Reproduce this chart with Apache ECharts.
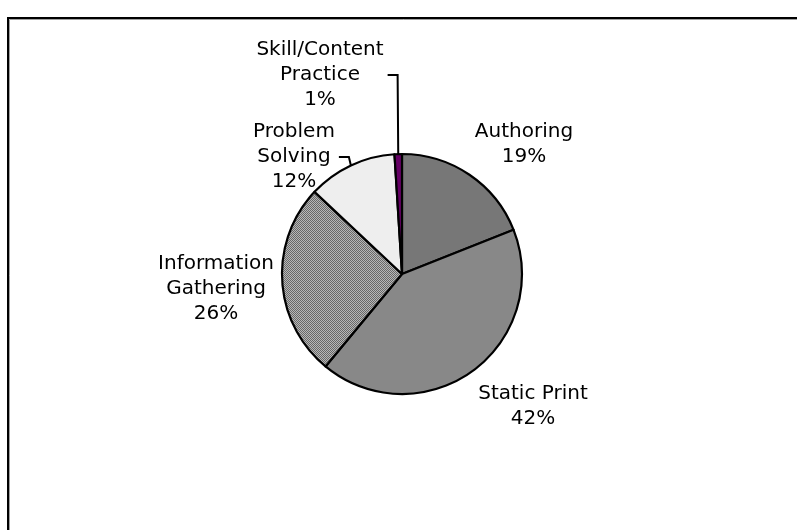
<!DOCTYPE html>
<html>
<head>
<meta charset="utf-8">
<script src="https://cdn.jsdelivr.net/npm/echarts@6/dist/echarts.min.js"></script>
<style>
  html, body { margin: 0; padding: 0; background: #ffffff; }
  #chart { width: 797px; height: 530px; }
</style>
</head>
<body>
<div id="chart"></div>
<script>
// Activity categories and their share of the total (percent)
const categories = ['Authoring', 'Static Print', 'Information\nGathering', 'Problem\nSolving', 'Skill/Content\nPractice'];
const shares = [19, 42, 26, 12, 1];

// Label block centres (px) and which labels get a leader line
const labelCenters = [[524, 144], [533, 406], [216, 289], [294, 157], [320, 75]];
const showLeader = [false, false, false, true, true];

// 2x2 checkerboard used as a dithered fill
function ditherPattern(light, dark) {
  const c = document.createElement('canvas');
  c.width = 2; c.height = 2;
  const g = c.getContext('2d');
  g.fillStyle = light; g.fillRect(0, 0, 2, 2);
  g.fillStyle = dark; g.fillRect(0, 0, 1, 1); g.fillRect(1, 1, 1, 1);
  return c;
}

const sliceFills = [
  '#777777',
  '#888888',
  { image: ditherPattern('#b8b8b8', '#686868'), repeat: 'repeat' },
  '#eeeeee',
  '#660066'
];

const chart = echarts.init(document.getElementById('chart'), null, { renderer: 'canvas' });

chart.setOption({
  backgroundColor: '#ffffff',
  animation: false,
  graphic: [
    { type: 'rect', silent: true, shape: { x: 8, y: 18, width: 900, height: 600 },
      style: { fill: null, stroke: '#000000', lineWidth: 2 } },
    { type: 'rect', silent: true, shape: { x: 9.5, y: 19.5, width: 900, height: 600 },
      style: { fill: null, stroke: '#a0a0a0', lineWidth: 1 } }
  ],
  series: [{
    type: 'pie',
    center: [402, 274],
    radius: 120,
    startAngle: 90,
    clockwise: true,
    avoidLabelOverlap: false,
    silent: true,
    itemStyle: { borderColor: '#000000', borderWidth: 2.2 },
    label: {
      show: true,
      position: 'outside',
      formatter: p => p.name + '\n' + Math.round(p.percent) + '%',
      color: '#000000',
      fontFamily: 'DejaVu Sans',
      fontSize: 20,
      lineHeight: 25,
      align: 'center',
      padding: [0, 4]
    },
    labelLine: {
      show: true,
      length: 8,
      length2: 10,
      smooth: false,
      lineStyle: { color: '#000000', width: 2 }
    },
    labelLayout: p => ({
      x: labelCenters[p.dataIndex][0],
      y: labelCenters[p.dataIndex][1],
      align: 'center',
      verticalAlign: 'middle'
    }),
    data: categories.map((name, i) => ({
      name: name,
      value: shares[i],
      itemStyle: { color: sliceFills[i] },
      labelLine: { show: showLeader[i] }
    }))
  }]
});
</script>
</body>
</html>
